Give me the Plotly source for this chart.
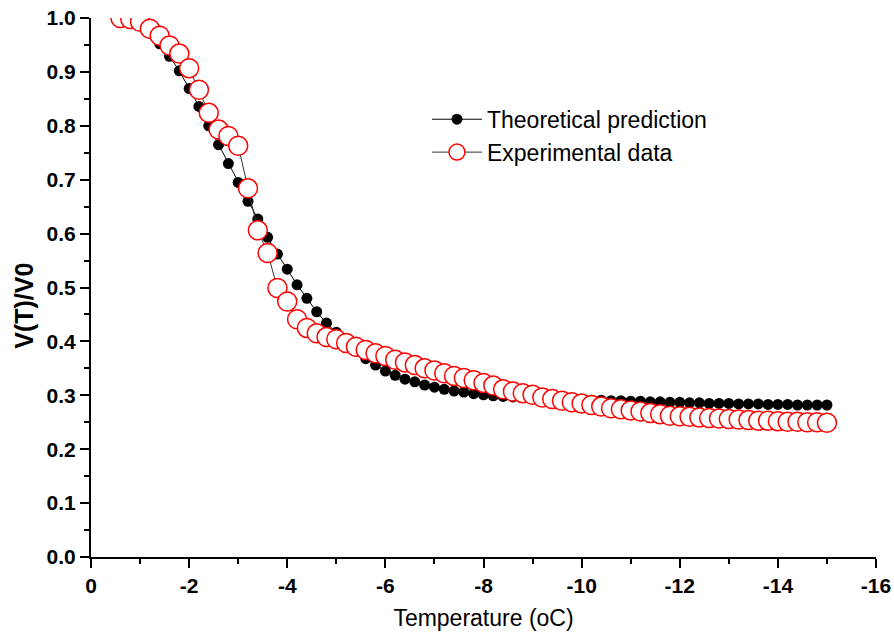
import plotly.graph_objects as go

# Temperature grid (oC)
temperature = [-0.6, -0.8, -1.0, -1.2, -1.4, -1.6, -1.8, -2.0, -2.2, -2.4,
               -2.6, -2.8, -3.0, -3.2, -3.4, -3.6, -3.8, -4.0, -4.2, -4.4,
               -4.6, -4.8, -5.0, -5.2, -5.4, -5.6, -5.8, -6.0, -6.2, -6.4,
               -6.6, -6.8, -7.0, -7.2, -7.4, -7.6, -7.8, -8.0, -8.2, -8.4,
               -8.6, -8.8, -9.0, -9.2, -9.4, -9.6, -9.8, -10.0, -10.2, -10.4,
               -10.6, -10.8, -11.0, -11.2, -11.4, -11.6, -11.8, -12.0, -12.2, -12.4,
               -12.6, -12.8, -13.0, -13.2, -13.4, -13.6, -13.8, -14.0, -14.2, -14.4,
               -14.6, -14.8, -15.0]

theoretical = [1.000, 0.995, 0.986, 0.972, 0.952, 0.929, 0.902, 0.869, 0.836, 0.800,
               0.765, 0.730, 0.695, 0.660, 0.627, 0.593, 0.562, 0.534, 0.505, 0.480,
               0.455, 0.434, 0.417, 0.399, 0.382, 0.368, 0.356, 0.345, 0.337, 0.330,
               0.325, 0.319, 0.315, 0.311, 0.308, 0.306, 0.303, 0.301, 0.299, 0.298,
               0.297, 0.296, 0.295, 0.294, 0.294, 0.293, 0.292, 0.292, 0.291, 0.291,
               0.290, 0.290, 0.289, 0.289, 0.288, 0.288, 0.287, 0.287, 0.286, 0.286,
               0.285, 0.285, 0.285, 0.284, 0.284, 0.284, 0.283, 0.283, 0.283, 0.282,
               0.282, 0.282, 0.282]

experimental = [1.000, 0.998, 0.993, 0.980, 0.967, 0.949, 0.934, 0.907, 0.867, 0.824,
                0.793, 0.781, 0.763, 0.684, 0.606, 0.564, 0.499, 0.474, 0.441, 0.425,
                0.415, 0.408, 0.404, 0.397, 0.390, 0.384, 0.378, 0.373, 0.366, 0.361,
                0.356, 0.350, 0.346, 0.341, 0.336, 0.332, 0.328, 0.323, 0.318, 0.311,
                0.307, 0.304, 0.301, 0.296, 0.293, 0.290, 0.287, 0.285, 0.282, 0.279,
                0.276, 0.274, 0.272, 0.270, 0.267, 0.265, 0.262, 0.261, 0.260, 0.259,
                0.258, 0.257, 0.256, 0.255, 0.254, 0.253, 0.253, 0.252, 0.251, 0.251,
                0.250, 0.250, 0.249]

x_tick_vals = [0, -2, -4, -6, -8, -10, -12, -14, -16]
x_tick_text = ["0", "-2", "-4", "-6", "-8", "-10", "-12", "-14", "-16"]
y_tick_vals = [0.0, 0.1, 0.2, 0.3, 0.4, 0.5, 0.6, 0.7, 0.8, 0.9, 1.0]
y_tick_text = ["0.0", "0.1", "0.2", "0.3", "0.4", "0.5", "0.6", "0.7", "0.8", "0.9", "1.0"]

FONT = "Liberation Sans, Arial, sans-serif"

fig = go.Figure()
fig.add_trace(go.Scatter(
    x=temperature, y=theoretical, name="Theoretical prediction",
    mode="lines+markers",
    line=dict(color="black", width=1),
    marker=dict(symbol="circle", size=11, color="black"),
))
fig.add_trace(go.Scatter(
    x=temperature, y=experimental, name="Experimental data",
    mode="lines+markers",
    line=dict(color="#333333", width=1),
    marker=dict(symbol="circle", size=19, color="white",
                line=dict(color="red", width=1.5)),
))

axis_common = dict(
    showline=True, linecolor="black", linewidth=2, mirror=False,
    ticks="outside", ticklen=9, tickwidth=2, tickcolor="black",
    showgrid=False, zeroline=False, automargin=False,
    tickfont=dict(family=FONT, size=21, color="black", weight="bold"),
)

fig.update_xaxes(
    range=[0, -16], tickvals=x_tick_vals, ticktext=x_tick_text,
    minor=dict(dtick=1, ticklen=5, tickwidth=2, tickcolor="black", ticks="outside", showgrid=False),
    title=dict(text="Temperature (oC)", font=dict(family=FONT, size=23, color="black"), standoff=14),
    **axis_common,
)
fig.update_yaxes(
    range=[0, 1.0], tickvals=y_tick_vals, ticktext=y_tick_text,
    minor=dict(dtick=0.05, ticklen=5, tickwidth=2, tickcolor="black", ticks="outside", showgrid=False),
    **axis_common,
)

fig.add_annotation(
    text="V(T)/V0", textangle=-90, showarrow=False,
    xref="paper", yref="paper", x=-0.0854, y=0.466,
    xanchor="center", yanchor="middle",
    font=dict(family=FONT, size=25, color="black", weight="bold"),
)

fig.update_layout(
    template="none",
    width=894, height=636,
    margin=dict(l=91, r=18, t=18, b=79),
    plot_bgcolor="white", paper_bgcolor="white",
    showlegend=True,
    legend=dict(
        x=0.428, y=0.852, xanchor="left", yanchor="top",
        bgcolor="rgba(0,0,0,0)", borderwidth=0,
        font=dict(family=FONT, size=23, color="black"),
        itemwidth=50, tracegroupgap=0,
    ),
)

fig.write_html("out.html")
